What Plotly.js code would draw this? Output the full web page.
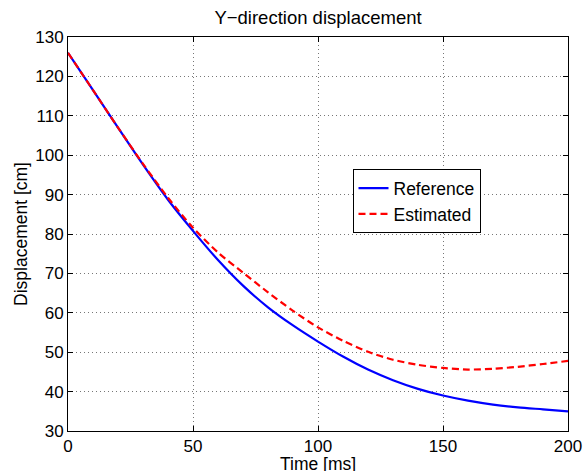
<!DOCTYPE html>
<html>
<head>
<meta charset="utf-8">
<script src="https://cdn.plot.ly/plotly-3.0.1.min.js"></script>
<style>html,body{margin:0;padding:0;background:#fff;}#chart{width:583px;height:471px;}</style>
</head>
<body>
<div id="chart"></div>
<script>
const timeMs = [0,10,20,30,40,50,60,70,80,90,100,110,120,130,140,150,160,170,180,190,200];
const referenceCm = [126,116.5,107,97.6,88.7,80.8,73.4,66.9,61.4,56.8,52.7,48.9,45.6,42.9,40.7,39.0,37.7,36.7,36.0,35.5,35.0];
const estimatedCm = [126,116.5,107,97.8,89.2,81.6,75.3,70.2,65.2,60.5,56.3,52.9,50.1,48.1,46.8,46.0,45.6,45.8,46.3,47.0,47.8];
const seriesNames = ["Reference","Estimated"];
const xTicks = [0,50,100,150,200];
const yTicks = [30,40,50,60,70,80,90,100,110,120,130];

const FONT = "Liberation Sans, Arial, Helvetica, sans-serif";
const traces = [
  {x: timeMs, y: referenceCm, name: seriesNames[0], type: "scatter", mode: "lines",
   line: {color: "#0000ff", width: 2.2, shape: "spline", smoothing: 0.8}},
  {x: timeMs, y: estimatedCm, name: seriesNames[1], type: "scatter", mode: "lines",
   line: {color: "#ff0000", width: 2.2, dash: "7px,4px", shape: "spline", smoothing: 0.8}}
];
const axisCommon = {
  showline: true, linecolor: "#000", linewidth: 1, mirror: "ticks",
  ticks: "inside", ticklen: 5, tickcolor: "#000", tickwidth: 1,
  showgrid: true, gridcolor: "#777", gridwidth: 1, griddash: "1px,3px",
  zeroline: false, tickfont: {family: FONT, size: 17, color: "#000"}
};
const layout = {
  width: 583, height: 471,
  margin: {l: 68, r: 15, t: 37, b: 40},
  paper_bgcolor: "#fff", plot_bgcolor: "#fff",
  font: {family: FONT, size: 17, color: "#000"},
  title: {text: "Y\u2212direction displacement", font: {family: FONT, size: 18.5, color: "#000"},
          x: 0.5, xref: "paper", xanchor: "center", y: 0.963, yref: "container", yanchor: "middle"},
  xaxis: Object.assign({}, axisCommon, {range: [0, 200], tickvals: xTicks, ticktext: xTicks.map(String)}),
  yaxis: Object.assign({}, axisCommon, {range: [30, 130], tickvals: yTicks, ticktext: yTicks.map(String),
          title: {text: "Displacement [cm]", font: {family: FONT, size: 17.5}, standoff: 3}}),
  annotations: [{text: "Time [ms]", xref: "paper", yref: "paper", x: 0.5, y: -0.055,
                 xanchor: "center", yanchor: "top", showarrow: false, borderpad: 0,
                 font: {family: FONT, size: 17.5, color: "#000"}}],
  showlegend: true,
  legend: {x: 0.569, y: 0.6645, xanchor: "left", yanchor: "top", bgcolor: "#fff",
           bordercolor: "#000", borderwidth: 1, font: {family: FONT, size: 17.5, color: "#000"},
           itemwidth: 30, tracegroupgap: 0}
};
Plotly.newPlot("chart", traces, layout, {displayModeBar: false, staticPlot: true});
</script>
</body>
</html>
